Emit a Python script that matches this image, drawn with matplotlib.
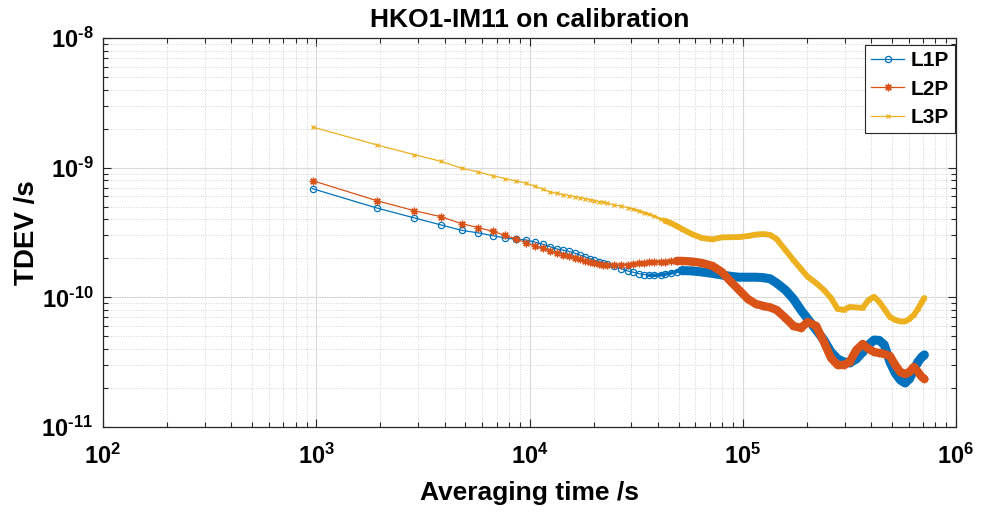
import matplotlib.pyplot as plt

plt.rcParams['font.family'] = ['Liberation Sans', 'DejaVu Sans']
plt.rcParams['font.weight'] = 'bold'
plt.rcParams['mathtext.fontset'] = 'custom'
plt.rcParams['mathtext.bf'] = 'Liberation Sans:bold'
plt.rcParams['mathtext.rm'] = 'Liberation Sans:bold'

# averaging factor n, tau = n * tau0
tau0 = 960
n_avg = [1, 2, 3, 4, 5, 6, 7, 8, 9, 10, 11, 12, 13, 14,
         15, 16, 17, 18, 19, 20, 21, 22, 23, 24, 26, 28,
         30, 32, 34, 36, 38, 40, 43, 45, 48, 51,
         54, 60, 67, 75, 83, 92, 100, 110, 120, 130,
         140, 150, 165, 180, 195, 210, 230, 250, 270, 290,
         310, 330, 355, 380, 405, 430, 455, 480, 510, 540,
         570, 600, 630, 660, 690, 720, 740]

tdev_l1p = [6.89e-10, 4.89e-10, 4.10e-10, 3.62e-10, 3.29e-10, 3.14e-10, 2.99e-10,
            2.87e-10, 2.81e-10, 2.77e-10, 2.67e-10, 2.57e-10, 2.46e-10, 2.36e-10,
            2.31e-10, 2.26e-10, 2.19e-10, 2.12e-10, 2.05e-10, 1.98e-10, 1.93e-10,
            1.88e-10, 1.84e-10, 1.80e-10, 1.73e-10, 1.66e-10,
            1.60e-10, 1.56e-10, 1.52e-10, 1.50e-10, 1.48e-10, 1.48e-10, 1.49e-10,
            1.51e-10, 1.54e-10, 1.58e-10,
            1.61e-10, 1.60e-10, 1.57e-10, 1.53e-10, 1.49e-10, 1.45e-10, 1.43e-10,
            1.43e-10, 1.43e-10, 1.42e-10,
            1.39e-10, 1.29e-10, 1.14e-10, 9.72e-11, 8.00e-11, 6.82e-11, 5.61e-11,
            4.69e-11, 3.79e-11, 3.35e-11,
            3.18e-11, 3.12e-11, 3.35e-11, 3.79e-11, 4.30e-11, 4.69e-11, 4.65e-11,
            4.30e-11, 3.18e-11, 2.61e-11,
            2.31e-11, 2.19e-11, 2.35e-11, 2.76e-11, 3.18e-11, 3.47e-11, 3.60e-11]

tdev_l2p = [7.94e-10, 5.57e-10, 4.66e-10, 4.19e-10, 3.70e-10, 3.45e-10, 3.23e-10,
            3.01e-10, 2.82e-10, 2.64e-10, 2.49e-10, 2.39e-10, 2.28e-10, 2.20e-10,
            2.14e-10, 2.09e-10, 2.02e-10, 1.96e-10, 1.91e-10, 1.87e-10, 1.84e-10,
            1.81e-10, 1.79e-10, 1.78e-10, 1.78e-10, 1.78e-10,
            1.79e-10, 1.81e-10, 1.83e-10, 1.85e-10, 1.86e-10, 1.87e-10, 1.88e-10,
            1.89e-10, 1.91e-10, 1.91e-10,
            1.91e-10, 1.89e-10, 1.84e-10, 1.75e-10, 1.57e-10, 1.31e-10, 1.14e-10,
            9.72e-11, 8.89e-11, 8.59e-11,
            8.36e-11, 8.00e-11, 6.94e-11, 6.02e-11, 5.81e-11, 6.46e-11, 6.02e-11,
            4.53e-11, 3.41e-11, 3.01e-11,
            3.01e-11, 3.18e-11, 3.93e-11, 4.37e-11, 4.00e-11, 3.79e-11, 3.73e-11,
            3.66e-11, 3.53e-11, 3.01e-11,
            2.66e-11, 2.57e-11, 2.66e-11, 2.91e-11, 2.66e-11, 2.43e-11, 2.35e-11]

tdev_l3p = [2.06e-9, 1.50e-9, 1.26e-9, 1.12e-9, 9.90e-10, 9.27e-10, 8.68e-10,
            8.23e-10, 7.90e-10, 7.62e-10, 7.19e-10, 6.85e-10, 6.50e-10, 6.33e-10,
            6.20e-10, 6.08e-10, 5.98e-10, 5.88e-10, 5.78e-10, 5.68e-10, 5.58e-10,
            5.48e-10, 5.42e-10, 5.33e-10, 5.15e-10, 5.06e-10,
            4.93e-10, 4.78e-10, 4.64e-10, 4.50e-10, 4.36e-10, 4.22e-10, 4.02e-10,
            3.90e-10, 3.73e-10, 3.55e-10,
            3.37e-10, 3.08e-10, 2.87e-10, 2.80e-10, 2.90e-10, 2.91e-10, 2.92e-10,
            2.97e-10, 3.05e-10, 3.08e-10,
            3.03e-10, 2.82e-10, 2.32e-10, 1.94e-10, 1.66e-10, 1.44e-10, 1.29e-10,
            1.14e-10, 9.89e-11, 8.14e-11,
            8.00e-11, 8.43e-11, 8.36e-11, 8.29e-11, 9.55e-11, 1.01e-10, 9.22e-11,
            8.14e-11, 7.06e-11, 6.70e-11,
            6.52e-11, 6.52e-11, 6.82e-11, 7.32e-11, 8.14e-11, 9.22e-11, 9.89e-11]

x_tick_exp = [2, 3, 4, 5, 6]
y_tick_exp = [-11, -10, -9, -8]

tau = [n * tau0 for n in n_avg]

fig = plt.figure(figsize=(9.84, 5.13), dpi=100)
ax = fig.add_axes([0.1047, 0.1676, 0.8669, 0.7583])

# name, values, colour, marker, size, n where band starts, band width
series = [
    ('L1P', tdev_l1p, '#0072BD', 'o', 4.5, 54, 6.5),
    ('L2P', tdev_l2p, '#D95319', (8, 2, 0), 5.5, 51, 6.0),
    ('L3P', tdev_l3p, '#EDB120', 'x', 3.5, 45, 4.2),
]
for name, vals, col, mk, ms, n_dense, lw_dense in series:
    ax.plot(tau, vals, color=col, lw=0.9, marker=mk, ms=ms,
            mfc='none', mew=0.9, label=name, zorder=3)
    # at long tau the markers are so close they merge into a band
    mid_t = [t for t, n in zip(tau, n_avg) if n >= n_dense * 0.7]
    mid_v = [v for v, n in zip(vals, n_avg) if n >= n_dense * 0.7]
    ax.plot(mid_t, mid_v, color=col, lw=lw_dense * 0.4,
            solid_capstyle='round', zorder=3)
    dense_t = [t for t, n in zip(tau, n_avg) if n >= n_dense]
    dense_v = [v for v, n in zip(vals, n_avg) if n >= n_dense]
    ax.plot(dense_t, dense_v, color=col, lw=lw_dense,
            solid_capstyle='round', solid_joinstyle='round', zorder=3)


def sup_label(e):
    if e < 0:
        return r'$\mathbf{10^{\text{-}%d}}$' % (-e)
    return r'$\mathbf{10^{%d}}$' % e


ax.set_xscale('log')
ax.set_yscale('log')
ax.set_xlim(1e2, 1e6)
ax.set_ylim(1e-11, 1e-8)
ax.set_xticks([10.0 ** e for e in x_tick_exp])
ax.set_xticklabels([sup_label(e) for e in x_tick_exp])
ax.set_yticks([10.0 ** e for e in y_tick_exp])
ax.set_yticklabels([sup_label(e) for e in y_tick_exp])

ax.grid(which='major', color='#dadada', lw=0.8, ls='-', zorder=0)
ax.grid(which='minor', color='#c4c4c4', lw=0.6, ls=(0, (1, 2)), zorder=0)
ax.set_axisbelow(True)

ax.tick_params(which='both', direction='in', top=True, right=True,
               color='#262626', width=0.8)
ax.tick_params(which='major', length=6, labelsize=17)
ax.tick_params(which='minor', length=3.5)
ax.tick_params(axis='x', pad=12)
ax.tick_params(axis='y', pad=7)
for sp in ax.spines.values():
    sp.set_color('#262626')
    sp.set_linewidth(0.9)

ax.set_title('HKO1-IM11 on calibration', fontsize=19, fontweight='bold', pad=8)
ax.set_xlabel('Averaging time /s', fontsize=19, fontweight='bold', labelpad=9)
ax.set_ylabel('TDEV /s', fontsize=20, fontweight='bold', labelpad=1)

leg = ax.legend(loc='upper right', bbox_to_anchor=(0.999, 0.982),
                borderaxespad=0, fontsize=15, fancybox=False, framealpha=1,
                edgecolor='#262626', handlelength=1.6,
                handletextpad=0.3, labelspacing=0.45, borderpad=0.3)
leg.get_frame().set_linewidth(0.8)
for t in leg.get_texts():
    t.set_fontweight('bold')

fig.savefig('out.png', dpi=100)
